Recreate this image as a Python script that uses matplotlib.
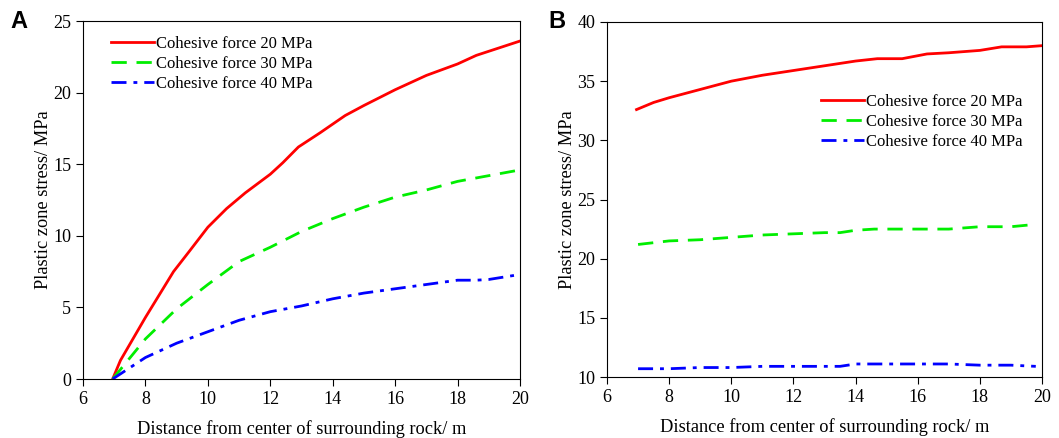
import matplotlib
matplotlib.use('Agg')
import matplotlib.pyplot as plt

plt.rcParams['font.family'] = ['Liberation Serif', 'DejaVu Serif']

# panel A
a_x20 = [6.95, 7.2, 8.0, 8.9, 9.4, 10.0, 10.6, 11.2, 12.0, 12.4, 12.9, 13.6, 14.4, 15.0, 16.0, 17.0, 18.0, 18.6, 20.0]
a_y20 = [0.0, 1.3, 4.3, 7.5, 8.9, 10.6, 11.9, 13.0, 14.3, 15.1, 16.2, 17.2, 18.4, 19.1, 20.2, 21.2, 22.0, 22.6, 23.6]
a_x30 = [6.95, 8, 9, 10, 11, 12, 13, 14, 15, 16, 17, 18, 19, 20]
a_y30 = [0.0, 2.8, 4.9, 6.6, 8.2, 9.2, 10.3, 11.2, 12.0, 12.7, 13.2, 13.8, 14.2, 14.6]
a_x40 = [6.95, 8, 9, 10, 11, 12, 13, 14, 15, 16, 17, 18, 18.6, 19, 20]
a_y40 = [0.0, 1.5, 2.5, 3.3, 4.1, 4.7, 5.1, 5.6, 6.0, 6.3, 6.6, 6.9, 6.9, 6.95, 7.3]

# panel B
b_x20 = [6.95, 7.5, 8, 9, 10, 11, 12, 13, 14, 14.7, 15.5, 16.3, 17, 18, 18.7, 19.5, 20]
b_y20 = [32.6, 33.2, 33.6, 34.3, 35.0, 35.5, 35.9, 36.3, 36.7, 36.9, 36.9, 37.3, 37.4, 37.6, 37.9, 37.9, 38.0]
b_x30 = [7, 8, 9, 10, 11, 12, 13, 13.5, 14, 14.6, 15, 16, 17, 17.5, 18, 19, 19.8]
b_y30 = [21.2, 21.5, 21.6, 21.8, 22.0, 22.1, 22.2, 22.2, 22.4, 22.5, 22.5, 22.5, 22.5, 22.6, 22.7, 22.7, 22.9]
b_x40 = [7, 8, 9, 10, 11, 12, 13, 13.5, 14, 15, 16, 17, 18, 19, 19.8]
b_y40 = [10.7, 10.7, 10.8, 10.8, 10.9, 10.9, 10.9, 10.9, 11.1, 11.1, 11.1, 11.1, 11.0, 11.0, 10.9]

labels = ['Cohesive force 20 MPa', 'Cohesive force 30 MPa', 'Cohesive force 40 MPa']

fig = plt.figure(figsize=(10.59, 4.38), dpi=100)
axA = fig.add_axes([83/1059, 1-379/438, 437/1059, 358/438])
axB = fig.add_axes([607/1059, 1-377/438, 435/1059, 355/438])

def draw(ax, xs, ys, yl, yticks, legloc):
    ax.plot(xs[0], ys[0], color='#ff0000', lw=2, label=labels[0])
    ax.plot(xs[1], ys[1], color='#00ee00', lw=2, dashes=(5.5, 3.5), label=labels[1])
    ax.plot(xs[2], ys[2], color='#0000ff', lw=2, dashes=(5.4, 2.5, 1.4, 2.5), label=labels[2])
    ax.set_xlim(6, 20)
    ax.set_ylim(*yl)
    ax.set_xticks(range(6, 21, 2))
    ax.set_yticks(yticks)
    ax.tick_params(labelsize=13, direction='out', length=5, top=False, right=False)
    ax.set_xlabel('Distance from center of surrounding rock/ m', fontsize=13.2, labelpad=9)
    ax.set_ylabel('Plastic zone stress/ MPa', fontsize=13.2, labelpad=1)
    ax.legend(fontsize=12, frameon=False, handlelength=2.6, handletextpad=0.1,
              labelspacing=0.25, **legloc)

draw(axA, [a_x20, a_x30, a_x40], [a_y20, a_y30, a_y40], (0, 25), range(0, 26, 5),
     dict(loc='upper left', bbox_to_anchor=(0.03, 1.0)))
draw(axB, [b_x20, b_x30, b_x40], [b_y20, b_y30, b_y40], (10, 40), range(10, 41, 5),
     dict(loc='upper right', bbox_to_anchor=(0.99, 0.84)))

fig.text(10/1059, 1-28/438, 'A', fontsize=17, fontweight='bold', family='Liberation Sans')
fig.text(548/1059, 1-28/438, 'B', fontsize=17, fontweight='bold', family='Liberation Sans')

fig.savefig('out.png', dpi=100)
